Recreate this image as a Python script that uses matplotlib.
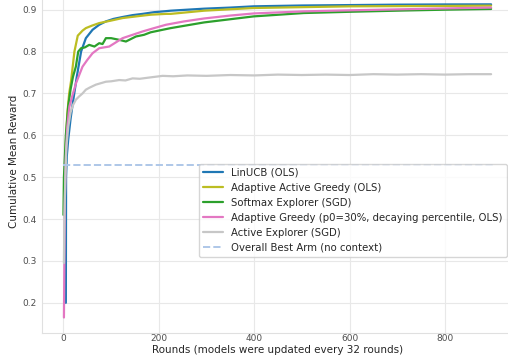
import numpy as np
import matplotlib
matplotlib.use("Agg")
import matplotlib.pyplot as plt
import seaborn as sns

linucb_x = [5, 5.5, 7, 10, 15, 20, 28, 37, 47, 61, 75, 89, 105, 124, 145, 166, 190, 215, 225, 260, 295, 350, 399, 500, 601, 700, 800, 897]
linucb_y = [0.20, 0.50, 0.55, 0.59, 0.64, 0.68, 0.74, 0.80, 0.832, 0.852, 0.864, 0.872, 0.878, 0.8825, 0.887, 0.890, 0.894, 0.8965, 0.8976, 0.900, 0.9024, 0.905, 0.908, 0.910, 0.911, 0.912, 0.9125, 0.9127]

aag_x = [3, 5, 8, 12, 16, 20, 23, 30, 40, 47, 60, 75, 100, 124, 160, 183, 215, 225, 295, 399, 500, 601, 700, 800, 897]
aag_y = [0.50, 0.58, 0.65, 0.70, 0.73, 0.77, 0.80, 0.838, 0.850, 0.856, 0.862, 0.868, 0.874, 0.880, 0.885, 0.888, 0.890, 0.890, 0.8976, 0.904, 0.906, 0.908, 0.9085, 0.909, 0.9096]

soft_x = [0, 1, 5, 10, 15, 20, 26, 31, 37, 45, 54, 65, 75, 82, 89, 100, 117, 131, 152, 169, 183, 208, 225, 295, 399, 504, 601, 713, 800, 897]
soft_y = [0.41, 0.50, 0.60, 0.67, 0.71, 0.74, 0.764, 0.80, 0.808, 0.810, 0.816, 0.812, 0.820, 0.818, 0.832, 0.832, 0.828, 0.824, 0.836, 0.840, 0.846, 0.852, 0.856, 0.8696, 0.884, 0.892, 0.895, 0.898, 0.900, 0.9017]

agr_x = [1, 2, 3, 5, 8, 12.5, 20, 26.5, 40, 50, 61, 75, 96, 110, 124, 145, 166, 190, 215, 253, 295, 350, 399, 504, 601, 713, 800, 897]
agr_y = [0.165, 0.30, 0.45, 0.55, 0.62, 0.669, 0.70, 0.725, 0.764, 0.780, 0.796, 0.808, 0.812, 0.822, 0.832, 0.840, 0.848, 0.856, 0.864, 0.872, 0.879, 0.886, 0.891, 0.896, 0.8985, 0.901, 0.903, 0.905]

act_x = [1, 2, 4, 6, 10, 15, 20, 26, 33, 40, 47, 55, 68, 80, 89, 100, 117, 130, 145, 160, 180, 208, 230, 260, 300, 350, 400, 450, 500, 550, 600, 650, 700, 750, 800, 850, 897]
act_y = [0.295, 0.406, 0.50, 0.57, 0.62, 0.655, 0.672, 0.685, 0.693, 0.700, 0.709, 0.714, 0.721, 0.725, 0.728, 0.729, 0.732, 0.731, 0.736, 0.735, 0.738, 0.742, 0.741, 0.743, 0.742, 0.744, 0.743, 0.745, 0.744, 0.745, 0.744, 0.746, 0.745, 0.746, 0.745, 0.746, 0.746]

best_arm_x = [0, 900]
best_arm_y = [0.53, 0.53]

sns.set_style("whitegrid", {"grid.color": "#e8e8e8", "axes.edgecolor": "#e0e0e0"})

fig = plt.figure(figsize=(5.08, 3.61), dpi=100)
ax = fig.add_axes([42 / 508, 28 / 361, 472 / 508, 343 / 361])

ax.plot(linucb_x, linucb_y, color="#1f77b4", lw=1.6, label="LinUCB (OLS)")
ax.plot(aag_x, aag_y, color="#bcbd22", lw=1.6, label="Adaptive Active Greedy (OLS)")
ax.plot(soft_x, soft_y, color="#2ca02c", lw=1.6, label="Softmax Explorer (SGD)")
ax.plot(agr_x, agr_y, color="#e377c2", lw=1.6, label="Adaptive Greedy (p0=30%, decaying percentile, OLS)")
ax.plot(act_x, act_y, color="#c7c7c7", lw=1.6, label="Active Explorer (SGD)")
ax.plot(best_arm_x, best_arm_y, color="#aec7e8", lw=1.4, ls="--", label="Overall Best Arm (no context)")

ax.set_xlim(-45, 945)
ax.set_ylim(0.128, 0.947)
ax.set_xticks([0, 200, 400, 600, 800])
ax.set_yticks([0.2, 0.3, 0.4, 0.5, 0.6, 0.7, 0.8, 0.9])
ax.grid(lw=0.8)
ax.spines["right"].set_visible(False)
ax.spines["top"].set_visible(False)
ax.tick_params(labelsize=6.5, colors=".3", length=0)
ax.tick_params(axis="x", pad=1)
ax.tick_params(axis="y", pad=4)
ax.set_xlabel("Rounds (models were updated every 32 rounds)", fontsize=7.5, color=".15", labelpad=1)
ax.set_ylabel("Cumulative Mean Reward", fontsize=7.5, color=".15", labelpad=2)

ax.legend(loc="lower right", bbox_to_anchor=(0.985, 0.2216), borderaxespad=0,
          fontsize=7.3, frameon=True, fancybox=True)

fig.savefig("out.png", dpi=100)
